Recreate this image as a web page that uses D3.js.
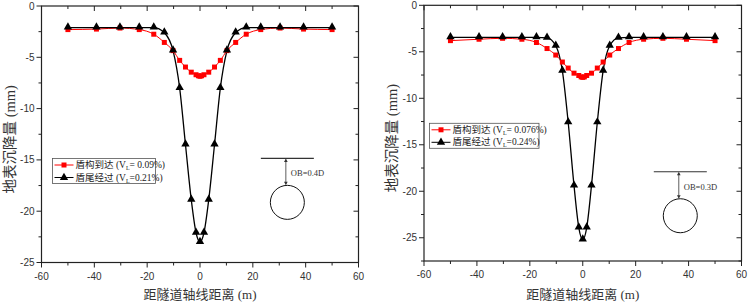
<!DOCTYPE html>
<html>
<head>
<meta charset="utf-8">
<script src="https://cdn.jsdelivr.net/npm/d3@7"></script>
<style>
  body { margin: 0; background: #fff; }
  svg text { font-family: "Liberation Sans", Arial, sans-serif; }
  .serif { font-family: "Liberation Serif", "Noto Sans CJK SC", serif; }
</style>
</head>
<body>
<div class="canvas"></div>
<script>
// Data
const xArrive = [-50, -39.2, -30.3, -23, -17.5, -13.5, -10.2, -7.7, -5.5, -3.3, -1.5, -0.6, 0, 0.6, 1.5, 3.3, 5.5, 7.7, 10.2, 13.5, 17.5, 23, 30.3, 39.2, 50]
const xTail = [-50, -39.2, -30.3, -23, -17.5, -13.5, -10.2, -7.7, -5.5, -3.3, -1.5, 0, 1.5, 3.3, 5.5, 7.7, 10.2, 13.5, 17.5, 23, 30.3, 39.2, 50]

const leftArrive = [-2.3, -2.25, -2.15, -2.3, -2.75, -3.55, -4.35, -5.3, -5.95, -6.45, -6.7, -6.8, -6.85, -6.8, -6.7, -6.45, -5.95, -5.3, -4.35, -3.55, -2.75, -2.3, -2.15, -2.25, -2.3]
const leftTail = [-2.1, -2.1, -2.1, -2.1, -2.1, -2.6, -4.35, -8.0, -13.5, -18.9, -22.1, -23.0, -22.1, -18.9, -13.5, -8.0, -4.35, -2.6, -2.1, -2.1, -2.1, -2.1, -2.1]

const rightArrive = [-3.8, -3.65, -3.55, -3.65, -4.0, -4.65, -5.35, -6.1, -6.75, -7.3, -7.55, -7.7, -7.75, -7.7, -7.55, -7.3, -6.75, -6.1, -5.35, -4.65, -4.0, -3.65, -3.55, -3.65, -3.8]
const rightTail = [-3.45, -3.45, -3.45, -3.45, -3.45, -3.5, -4.35, -7.05, -12.6, -19.4, -23.9, -25.2, -23.9, -19.4, -12.6, -7.05, -4.35, -3.5, -3.45, -3.45, -3.45, -3.45, -3.45]

const xTicks = [-60, -40, -20, 0, 20, 40, 60]
const yTicks = [0, -5, -10, -15, -20, -25]
const xTitle = '距隧道轴线距离 (m)'
const yTitle = '地表沉降量 (mm)'
const arriveName = '盾构到达'
const tailName = '盾尾经过'

const svg = d3.select('.canvas')
  .append('svg')
  .attr('width', 748)
  .attr('height', 305)

const drawPanel = (p) => {
  const x = d3.scaleLinear().domain([-60, 60]).range([p.left, p.right])
  const y = d3.scaleLinear().domain([p.yMin, 0]).range([p.bottom, p.top])
  const g = svg.append('g')

  // minor ticks
  const xMinor = d3.range(-60, 61, 10)
  const yMinor = d3.range(0, p.yMin - 0.01, -2.5)

  const tickColor = '#222'
  // bottom (outward) + top (inward)
  xMinor.forEach(v => {
    const major = xTicks.includes(v)
    const len = major ? 5 : 3
    g.append('line').attr('x1', x(v)).attr('x2', x(v))
      .attr('y1', p.bottom).attr('y2', p.bottom + len).attr('stroke', tickColor)
    g.append('line').attr('x1', x(v)).attr('x2', x(v))
      .attr('y1', p.top).attr('y2', p.top + len).attr('stroke', tickColor)
  })
  yMinor.forEach(v => {
    const major = yTicks.includes(v)
    const len = major ? 5 : 3
    g.append('line').attr('y1', y(v)).attr('y2', y(v))
      .attr('x1', p.left).attr('x2', p.left - len).attr('stroke', tickColor)
    g.append('line').attr('y1', y(v)).attr('y2', y(v))
      .attr('x1', p.right).attr('x2', p.right - len).attr('stroke', tickColor)
  })

  // frame
  g.append('rect')
    .attr('x', p.left).attr('y', p.top)
    .attr('width', p.right - p.left).attr('height', p.bottom - p.top)
    .attr('fill', 'none').attr('stroke', '#222').attr('stroke-width', 1.2)

  // tick labels
  g.selectAll('.xl').data(xTicks).enter().append('text')
    .attr('x', d => x(d)).attr('y', p.bottom + 17)
    .attr('text-anchor', 'middle').attr('font-size', 10).attr('fill', '#333')
    .text(d => d)
  g.selectAll('.yl').data(yTicks).enter().append('text')
    .attr('x', p.left - 7).attr('y', d => y(d) + 3.5)
    .attr('text-anchor', 'end').attr('font-size', 10).attr('fill', '#333')
    .text(d => d)

  // titles
  g.append('text').attr('class', 'serif')
    .attr('x', (p.left + p.right) / 2).attr('y', 299)
    .attr('text-anchor', 'middle').attr('font-size', 13).attr('fill', '#333')
    .text(xTitle)
  g.append('text').attr('class', 'serif')
    .attr('transform', `translate(${p.left - 27}, ${(p.top + p.bottom) / 2 + 5}) rotate(-90)`)
    .attr('text-anchor', 'middle').attr('font-size', 14.5).attr('fill', '#333')
    .text(yTitle)

  // curves
  const lineA = d3.line().x((d, i) => x(xArrive[i])).y(d => y(d)).curve(d3.curveMonotoneX)
  const lineT = d3.line().x((d, i) => x(xTail[i])).y(d => y(d)).curve(d3.curveMonotoneX)

  g.append('path').datum(p.arrive).attr('d', lineA)
    .attr('fill', 'none').attr('stroke', '#ff0000').attr('stroke-width', 1)
  g.append('path').datum(p.tail).attr('d', lineT)
    .attr('fill', 'none').attr('stroke', '#000').attr('stroke-width', 1.3)

  const sq = d3.symbol().type(d3.symbolSquare).size(25)
  const tri = d3.symbol().type(d3.symbolTriangle).size(30)

  g.selectAll('.sq').data(p.arrive).enter().append('path')
    .attr('d', sq).attr('fill', '#ff0000')
    .attr('transform', (d, i) => `translate(${x(xArrive[i])}, ${y(d)})`)
  g.selectAll('.tri').data(p.tail).enter().append('path')
    .attr('d', tri).attr('fill', '#000')
    .attr('transform', (d, i) => `translate(${x(xTail[i])}, ${y(d) - 0.5})`)

  // legend
  const lg = g.append('g').attr('transform', `translate(${p.legX}, ${p.legY})`)
  lg.append('rect').attr('width', p.legW).attr('height', 25)
    .attr('fill', '#fff').attr('stroke', '#555').attr('stroke-width', 0.8)
  const items = [
    { name: arriveName, vl: p.vlArrive, color: '#ff0000', sym: sq },
    { name: tailName, vl: p.vlTail, color: '#000', sym: tri }
  ]
  items.forEach((it, i) => {
    const cy = 6.5 + i * 12.5
    lg.append('line').attr('x1', 2).attr('x2', 21).attr('y1', cy).attr('y2', cy)
      .attr('stroke', it.color).attr('stroke-width', 1)
    lg.append('path').attr('d', it.sym).attr('fill', it.color)
      .attr('transform', `translate(11.5, ${cy})`)
    const t = lg.append('text').attr('class', 'serif')
      .attr('x', 23).attr('y', cy + 3).attr('font-size', 9.5).attr('fill', '#222')
    t.append('tspan').text(it.name + ' (V')
    t.append('tspan').attr('font-size', 6).attr('dy', 2).text('L')
    t.append('tspan').attr('dy', -2).text(it.vl + ')')
  })

  // tunnel sketch
  const ix = x(p.insetX)
  const lineY = y(p.insetY)
  g.append('line').attr('x1', ix - 25).attr('x2', ix + 28)
    .attr('y1', lineY).attr('y2', lineY).attr('stroke', '#333').attr('stroke-width', 1.2)
  const r = 17
  const cyC = lineY + 27 + r
  g.append('line').attr('x1', ix).attr('x2', ix).attr('y1', lineY + 1).attr('y2', cyC - r - 1)
    .attr('stroke', '#333').attr('stroke-width', 0.8)
  g.append('path').attr('d', d3.symbol().type(d3.symbolTriangle).size(6))
    .attr('transform', `translate(${ix}, ${lineY + 2.5})`).attr('fill', '#333')
  g.append('path').attr('d', d3.symbol().type(d3.symbolTriangle).size(6))
    .attr('transform', `translate(${ix}, ${cyC - r - 2.5}) rotate(180)`).attr('fill', '#333')
  g.append('circle').attr('cx', ix + 1.5).attr('cy', cyC).attr('r', r)
    .attr('fill', 'none').attr('stroke', '#111').attr('stroke-width', 1)
  g.append('text').attr('class', 'serif')
    .attr('x', ix + 5).attr('y', lineY + 18).attr('font-size', 8.5).attr('fill', '#333')
    .text(p.ob)
}

drawPanel({
  left: 41.5, right: 358.5, top: 6, bottom: 262.5, yMin: -25,
  arrive: leftArrive, tail: leftTail,
  legX: 52.5, legY: 158.5, legW: 103,
  vlArrive: '= 0.09%', vlTail: '=0.21%',
  insetX: 32.5, insetY: -14.85, ob: 'OB=0.4D'
})

drawPanel({
  left: 424, right: 741.5, top: 5.3, bottom: 261, yMin: -27.5,
  arrive: rightArrive, tail: rightTail,
  legX: 429.5, legY: 123.3, legW: 109.5,
  vlArrive: '= 0.076%', vlTail: '=0.24%',
  insetX: 36.3, insetY: -17.9, ob: 'OB=0.3D'
})
</script>
</body>
</html>
